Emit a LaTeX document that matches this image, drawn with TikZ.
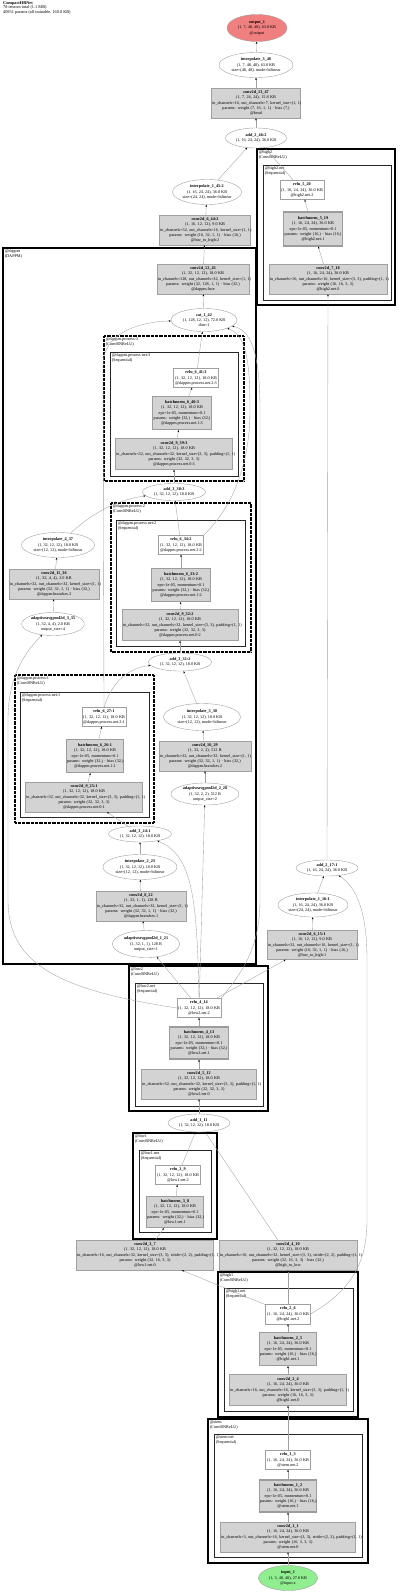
\documentclass[tikz,border=0pt]{standalone}
\usepackage{fontspec}
\setmainfont{Liberation Serif}
\usepackage{xcolor}
\usepackage{tikz}
\usetikzlibrary{shapes.geometric, arrows.meta}
\definecolor{modgray}{HTML}{D3D3D3}
\definecolor{linegray}{HTML}{A0A0A0}
\definecolor{bngray}{HTML}{9C9C9C}
\definecolor{outred}{HTML}{F08080}
\definecolor{ingreen}{HTML}{90EE90}

\tikzset{
  gviz/.style={font=\fontsize{4.2}{5.2}\selectfont, align=center, inner xsep=0.6pt, inner ysep=0.5pt},
  modbox/.style={gviz, rectangle, draw=linegray, fill=modgray, line width=0.4pt},
  bnbox/.style={modbox, draw=bngray, line width=1.1pt},
  fnbox/.style={gviz, rectangle, draw=linegray, fill=white, line width=0.4pt},
  fnell/.style={gviz, ellipse, draw=linegray, fill=white, line width=0.4pt, inner sep=0pt},
  clusterbox/.style={draw=black, line width=1.2pt},
  procbox/.style={draw=black, line width=1.2pt, dash pattern=on 0.7pt off 0.6pt},
  seqbox/.style={draw=black!85, line width=0.9pt},
  clusterlabel/.style={font=\fontsize{4.2}{4.4}\selectfont, align=left, anchor=north west, inner sep=0.6pt},
  flow/.style={draw=linegray, line width=0.35pt, -{Stealth[length=2.2pt, width=1.7pt, color=black]}},
}

\begin{document}
\begin{tikzpicture}[x=1pt, y=-1pt]
  \useasboundingbox (0,0) rectangle (400,1593);

  % header
  \node[anchor=north west, align=left, inner sep=0pt, font=\fontsize{4.3}{4.4}\selectfont] (title) at (3,1.5)
    {\textbf{CompactHRNet}\\78 tensors total (1.1 MB)\\40951 params (all trainable, 160.0 KB)};

  % clusters
  \draw[clusterbox] (257,149) rectangle (395,305);
  \node[clusterlabel] (lbl_high2) at (258,150) {@high2\\(ConvBNReLU)};
  \draw[seqbox] (263,165) rectangle (391,300);
  \node[clusterlabel] (lbl_high2net) at (264,166) {@high2.net\\(Sequential)};

  \draw[clusterbox] (3,248) rectangle (256,964);
  \node[clusterlabel] (lbl_dappm) at (4,249) {@dappm\\(DAPPM)};

  \draw[procbox] (104,336) rectangle (244,481);
  \node[clusterlabel] (lbl_proc3) at (105,337) {@dappm.process:3\\(ConvBNReLU)};
  \draw[seqbox] (110,352) rectangle (238,476);
  \node[clusterlabel] (lbl_proc3net) at (111,353) {@dappm.process.net:3\\(Sequential)};

  \draw[procbox] (111,503) rectangle (251,652);
  \node[clusterlabel] (lbl_proc2) at (112,504) {@dappm.process:2\\(ConvBNReLU)};
  \draw[seqbox] (116,520) rectangle (245,646);
  \node[clusterlabel] (lbl_proc2net) at (117,521) {@dappm.process.net:2\\(Sequential)};

  \draw[procbox] (15,675) rectangle (154,823);
  \node[clusterlabel] (lbl_proc1) at (16,676) {@dappm.process:1\\(ConvBNReLU)};
  \draw[seqbox] (20,692) rectangle (149,817);
  \node[clusterlabel] (lbl_proc1net) at (21,693) {@dappm.process.net:1\\(Sequential)};

  \draw[clusterbox] (129,966) rectangle (268,1111);
  \node[clusterlabel] (lbl_low2) at (130,967) {@low2\\(ConvBNReLU)};
  \draw[seqbox] (135,983) rectangle (263,1106);
  \node[clusterlabel] (lbl_low2net) at (136,984) {@low2.net\\(Sequential)};

  \draw[clusterbox] (133,1133) rectangle (217,1239);
  \node[clusterlabel] (lbl_low1) at (134,1134) {@low1\\(ConvBNReLU)};
  \draw[seqbox] (139,1150) rectangle (211,1232);
  \node[clusterlabel] (lbl_low1net) at (140,1151) {@low1.net\\(Sequential)};

  \draw[clusterbox] (218,1272) rectangle (358,1417);
  \node[clusterlabel] (lbl_high1) at (219,1273) {@high1\\(ConvBNReLU)};
  \draw[seqbox] (224,1288) rectangle (353,1411);
  \node[clusterlabel] (lbl_high1net) at (225,1289) {@high1.net\\(Sequential)};

  \draw[clusterbox] (208,1419) rectangle (368,1563);
  \node[clusterlabel] (lbl_stem) at (209,1420) {@stem\\(ConvBNReLU)};
  \draw[seqbox] (214,1434) rectangle (362,1557);
  \node[clusterlabel] (lbl_stemnet) at (215,1435) {@stem.net\\(Sequential)};

  % head
  \node[fnell, fill=outred, minimum width=60pt, minimum height=27pt] (output_1) at (257,28)
    {\textbf{output\_1}\\(1, 7, 48, 48), 63.0 KB\\@output};
  \node[fnell, minimum width=74pt, minimum height=25pt] (interp_3_48) at (256,65)
    {\textbf{interpolate\_3\_48}\\(1, 7, 48, 48), 63.0 KB\\size=(48, 48), mode=bilinear};
  \node[modbox, text width=87.5pt, minimum height=30pt] (conv2d_13_47) at (256,103)
    {\textbf{conv2d\_13\_47}\\\mbox{(1, 7, 24, 24), 15.8 KB}\\\mbox{in\_channels=16, out\_channels=7, kernel\_size=(1, 1)}\\\mbox{params: weight (7, 16, 1, 1) · bias (7,)}\\@head};
  \node[fnell, minimum width=61pt, minimum height=20pt] (add_2_46_2) at (256,138)
    {\textbf{add\_2\_46:2}\\(1, 16, 24, 24), 36.0 KB};
  \node[fnell, minimum width=69pt, minimum height=25pt] (interp_1_45_2) at (207,192)
    {\textbf{interpolate\_1\_45:2}\\(1, 16, 24, 24), 36.0 KB\\size=(24, 24), mode=bilinear};
  \node[modbox, text width=89.5pt, minimum height=30pt] (conv2d_6_44_2) at (205,230)
    {\textbf{conv2d\_6\_44:2}\\\mbox{(1, 16, 12, 12), 9.0 KB}\\\mbox{in\_channels=32, out\_channels=16, kernel\_size=(1, 1)}\\\mbox{params: weight (16, 32, 1, 1) · bias (16,)}\\@low\_to\_high:2};

  % high2
  \node[fnbox, text width=42.5pt, minimum height=19pt] (relu_5_20) at (302,190)
    {\textbf{relu\_5\_20}\\\mbox{(1, 16, 24, 24), 36.0 KB}\\@high2.net.2};
  \node[bnbox, text width=57.5pt, minimum height=34pt] (bn_5_19) at (313,229)
    {\textbf{batchnorm\_5\_19}\\\mbox{(1, 16, 24, 24), 36.0 KB}\\\mbox{eps=1e-05, momentum=0.1}\\\mbox{params: weight (16,) · bias (16,)}\\@high2.net.1};
  \node[modbox, text width=116.5pt, minimum height=30pt] (conv2d_7_18) at (328,279)
    {\textbf{conv2d\_7\_18}\\\mbox{(1, 16, 24, 24), 36.0 KB}\\\mbox{in\_channels=16, out\_channels=16, kernel\_size=(3, 3), padding=(1, 1)}\\\mbox{params: weight (16, 16, 3, 3)}\\@high2.net.0};

  % dappm
  \node[modbox, text width=90.5pt, minimum height=30pt] (conv2d_12_43) at (203,279)
    {\textbf{conv2d\_12\_43}\\\mbox{(1, 32, 12, 12), 18.0 KB}\\\mbox{in\_channels=128, out\_channels=32, kernel\_size=(1, 1)}\\\mbox{params: weight (32, 128, 1, 1) · bias (32,)}\\@dappm.fuse};
  \node[fnell, minimum width=66pt, minimum height=23pt] (cat_1_42) at (204,320)
    {\textbf{cat\_1\_42}\\(1, 128, 12, 12), 72.0 KB\\dim=1};

  \node[fnbox, text width=43.5pt, minimum height=19pt] (relu_6_41_3) at (196,378)
    {\textbf{relu\_6\_41:3}\\\mbox{(1, 32, 12, 12), 18.0 KB}\\@dappm.process.net.2:3};
  \node[bnbox, text width=57.5pt, minimum height=33pt] (bn_6_40_3) at (182,413)
    {\textbf{batchnorm\_6\_40:3}\\\mbox{(1, 32, 12, 12), 18.0 KB}\\\mbox{eps=1e-05, momentum=0.1}\\\mbox{params: weight (32,) · bias (32,)}\\@dappm.process.net.1:3};
  \node[modbox, text width=115.5pt, minimum height=31pt] (conv2d_9_39_3) at (174,454)
    {\textbf{conv2d\_9\_39:3}\\\mbox{(1, 32, 12, 12), 18.0 KB}\\\mbox{in\_channels=32, out\_channels=32, kernel\_size=(3, 3), padding=(1, 1)}\\\mbox{params: weight (32, 32, 3, 3)}\\@dappm.process.net.0:3};
  \node[fnell, minimum width=63pt, minimum height=17pt] (add_3_38_3) at (174,492)
    {\textbf{add\_3\_38:3}\\(1, 32, 12, 12), 18.0 KB};

  \node[fnbox, text width=43.5pt, minimum height=19pt] (relu_6_34_2) at (181,545)
    {\textbf{relu\_6\_34:2}\\\mbox{(1, 32, 12, 12), 18.0 KB}\\@dappm.process.net.2:2};
  \node[bnbox, text width=57.5pt, minimum height=33pt] (bn_6_33_2) at (181,585)
    {\textbf{batchnorm\_6\_33:2}\\\mbox{(1, 32, 12, 12), 18.0 KB}\\\mbox{eps=1e-05, momentum=0.1}\\\mbox{params: weight (32,) · bias (32,)}\\@dappm.process.net.1:2};
  \node[modbox, text width=114.5pt, minimum height=31pt] (conv2d_9_32_2) at (180,625)
    {\textbf{conv2d\_9\_32:2}\\\mbox{(1, 32, 12, 12), 18.0 KB}\\\mbox{in\_channels=32, out\_channels=32, kernel\_size=(3, 3), padding=(1, 1)}\\\mbox{params: weight (32, 32, 3, 3)}\\@dappm.process.net.0:2};
  \node[fnell, minimum width=63pt, minimum height=18pt] (add_3_31_2) at (180,662)
    {\textbf{add\_3\_31:2}\\(1, 32, 12, 12), 18.0 KB};

  \node[fnell, minimum width=73pt, minimum height=25pt] (interp_4_37) at (58,545)
    {\textbf{interpolate\_4\_37}\\(1, 32, 12, 12), 18.0 KB\\size=(12, 12), mode=bilinear};
  \node[modbox, text width=88.5pt, minimum height=30pt] (conv2d_11_36) at (54,584)
    {\textbf{conv2d\_11\_36}\\\mbox{(1, 32, 4, 4), 2.0 KB}\\\mbox{in\_channels=32, out\_channels=32, kernel\_size=(1, 1)}\\\mbox{params: weight (32, 32, 1, 1) · bias (32,)}\\@dappm.branches.3};
  \node[fnell, minimum width=58pt, minimum height=23pt] (aap_3_35) at (53,624)
    {\textbf{adaptiveavgpool2d\_3\_35}\\(1, 32, 4, 4), 2.0 KB\\output\_size=4};

  \node[fnbox, text width=42.5pt, minimum height=19pt] (relu_6_27_1) at (104,717)
    {\textbf{relu\_6\_27:1}\\\mbox{(1, 32, 12, 12), 18.0 KB}\\@dappm.process.net.2:1};
  \node[bnbox, text width=56.5pt, minimum height=33pt] (bn_6_26_1) at (95,756)
    {\textbf{batchnorm\_6\_26:1}\\\mbox{(1, 32, 12, 12), 18.0 KB}\\\mbox{eps=1e-05, momentum=0.1}\\\mbox{params: weight (32,) · bias (32,)}\\@dappm.process.net.1:1};
  \node[modbox, text width=115.5pt, minimum height=30pt] (conv2d_9_25_1) at (84,797)
    {\textbf{conv2d\_9\_25:1}\\\mbox{(1, 32, 12, 12), 18.0 KB}\\\mbox{in\_channels=32, out\_channels=32, kernel\_size=(3, 3), padding=(1, 1)}\\\mbox{params: weight (32, 32, 3, 3)}\\@dappm.process.net.0:1};

  \node[fnell, minimum width=77pt, minimum height=27pt] (interp_3_30) at (202,717)
    {\textbf{interpolate\_3\_30}\\(1, 32, 12, 12), 18.0 KB\\size=(12, 12), mode=bilinear};
  \node[modbox, text width=90.5pt, minimum height=30pt] (conv2d_10_29) at (205,756)
    {\textbf{conv2d\_10\_29}\\\mbox{(1, 32, 2, 2), 512 B}\\\mbox{in\_channels=32, out\_channels=32, kernel\_size=(1, 1)}\\\mbox{params: weight (32, 32, 1, 1) · bias (32,)}\\@dappm.branches.2};
  \node[fnell, minimum width=68pt, minimum height=22pt] (aap_2_28) at (205,794)
    {\textbf{adaptiveavgpool2d\_2\_28}\\(1, 32, 2, 2), 512 B\\output\_size=2};

  \node[fnell, minimum width=63pt, minimum height=16pt] (add_3_24_1) at (140,834)
    {\textbf{add\_3\_24:1}\\(1, 32, 12, 12), 18.0 KB};
  \node[fnell, minimum width=74pt, minimum height=25pt] (interp_2_23) at (140,867)
    {\textbf{interpolate\_2\_23}\\(1, 32, 12, 12), 18.0 KB\\size=(12, 12), mode=bilinear};
  \node[modbox, text width=88.5pt, minimum height=30pt] (conv2d_8_22) at (141,906)
    {\textbf{conv2d\_8\_22}\\\mbox{(1, 32, 1, 1), 128 B}\\\mbox{in\_channels=32, out\_channels=32, kernel\_size=(1, 1)}\\\mbox{params: weight (32, 32, 1, 1) · bias (32,)}\\@dappm.branches.1};
  \node[fnell, minimum width=67pt, minimum height=27pt] (aap_1_21) at (146,944)
    {\textbf{adaptiveavgpool2d\_1\_21}\\(1, 32, 1, 1), 128 B\\output\_size=1};

  % low to high, first pass
  \node[fnell, minimum width=62pt, minimum height=16pt] (add_2_17_1) at (327,868)
    {\textbf{add\_2\_17:1}\\(1, 16, 24, 24), 36.0 KB};
  \node[fnell, minimum width=70pt, minimum height=24pt] (interp_1_16_1) at (313,905)
    {\textbf{interpolate\_1\_16:1}\\(1, 16, 24, 24), 36.0 KB\\size=(24, 24), mode=bilinear};
  \node[modbox, text width=88.5pt, minimum height=29pt] (conv2d_6_15_1) at (312,945)
    {\textbf{conv2d\_6\_15:1}\\\mbox{(1, 16, 12, 12), 9.0 KB}\\\mbox{in\_channels=32, out\_channels=16, kernel\_size=(1, 1)}\\\mbox{params: weight (16, 32, 1, 1) · bias (16,)}\\@low\_to\_high:1};

  % low2
  \node[fnbox, text width=42.5pt, minimum height=19pt] (relu_4_14) at (199,1008)
    {\textbf{relu\_4\_14}\\\mbox{(1, 32, 12, 12), 18.0 KB}\\@low2.net.2};
  \node[bnbox, text width=57.5pt, minimum height=32pt] (bn_4_13) at (199,1043)
    {\textbf{batchnorm\_4\_13}\\\mbox{(1, 32, 12, 12), 18.0 KB}\\\mbox{eps=1e-05, momentum=0.1}\\\mbox{params: weight (32,) · bias (32,)}\\@low2.net.1};
  \node[modbox, text width=113.5pt, minimum height=30pt] (conv2d_5_12) at (199,1084)
    {\textbf{conv2d\_5\_12}\\\mbox{(1, 32, 12, 12), 18.0 KB}\\\mbox{in\_channels=32, out\_channels=32, kernel\_size=(3, 3), padding=(1, 1)}\\\mbox{params: weight (32, 32, 3, 3)}\\@low2.net.0};
  \node[fnell, minimum width=62pt, minimum height=18pt] (add_1_11) at (199,1123)
    {\textbf{add\_1\_11}\\(1, 32, 12, 12), 18.0 KB};

  % low1
  \node[fnbox, text width=43.5pt, minimum height=19pt] (relu_3_9) at (178,1175)
    {\textbf{relu\_3\_9}\\\mbox{(1, 32, 12, 12), 18.0 KB}\\@low1.net.2};
  \node[bnbox, text width=55.5pt, minimum height=31pt] (bn_3_8) at (175,1212)
    {\textbf{batchnorm\_3\_8}\\\mbox{(1, 32, 12, 12), 18.0 KB}\\\mbox{eps=1e-05, momentum=0.1}\\\mbox{params: weight (32,) · bias (32,)}\\@low1.net.1};
  \node[modbox, text width=135.5pt, minimum height=30pt] (conv2d_3_7) at (145,1255)
    {\textbf{conv2d\_3\_7}\\\mbox{(1, 32, 12, 12), 18.0 KB}\\\mbox{in\_channels=16, out\_channels=32, kernel\_size=(3, 3), stride=(2, 2), padding=(1, 1)}\\\mbox{params: weight (32, 16, 3, 3)}\\@low1.net.0};
  \node[modbox, text width=136.5pt, minimum height=30pt] (conv2d_4_10) at (288,1255)
    {\textbf{conv2d\_4\_10}\\\mbox{(1, 32, 12, 12), 18.0 KB}\\\mbox{in\_channels=16, out\_channels=32, kernel\_size=(3, 3), stride=(2, 2), padding=(1, 1)}\\\mbox{params: weight (32, 16, 3, 3) · bias (32,)}\\@high\_to\_low};

  % high1
  \node[fnbox, text width=43.5pt, minimum height=20pt] (relu_2_6) at (288,1314)
    {\textbf{relu\_2\_6}\\\mbox{(1, 16, 24, 24), 36.0 KB}\\@high1.net.2};
  \node[bnbox, text width=56.5pt, minimum height=33pt] (bn_2_5) at (288,1349)
    {\textbf{batchnorm\_2\_5}\\\mbox{(1, 16, 24, 24), 36.0 KB}\\\mbox{eps=1e-05, momentum=0.1}\\\mbox{params: weight (16,) · bias (16,)}\\@high1.net.1};
  \node[modbox, text width=115.5pt, minimum height=31pt] (conv2d_2_4) at (288,1390)
    {\textbf{conv2d\_2\_4}\\\mbox{(1, 16, 24, 24), 36.0 KB}\\\mbox{in\_channels=16, out\_channels=16, kernel\_size=(3, 3), padding=(1, 1)}\\\mbox{params: weight (16, 16, 3, 3)}\\@high1.net.0};

  % stem
  \node[fnbox, text width=43.5pt, minimum height=19pt] (relu_1_3) at (288,1460)
    {\textbf{relu\_1\_3}\\\mbox{(1, 16, 24, 24), 36.0 KB}\\@stem.net.2};
  \node[bnbox, text width=56.5pt, minimum height=32pt] (bn_1_2) at (288,1496)
    {\textbf{batchnorm\_1\_2}\\\mbox{(1, 16, 24, 24), 36.0 KB}\\\mbox{eps=1e-05, momentum=0.1}\\\mbox{params: weight (16,) · bias (16,)}\\@stem.net.1};
  \node[modbox, text width=133.5pt, minimum height=30pt] (conv2d_1_1) at (288,1537)
    {\textbf{conv2d\_1\_1}\\\mbox{(1, 16, 24, 24), 36.0 KB}\\\mbox{in\_channels=3, out\_channels=16, kernel\_size=(3, 3), stride=(2, 2), padding=(1, 1)}\\\mbox{params: weight (16, 3, 3, 3)}\\@stem.net.0};
  \node[fnell, fill=ingreen, minimum width=59pt, minimum height=25pt] (input_1) at (288,1578)
    {\textbf{input\_1}\\(1, 3, 48, 48), 27.0 KB\\@input.x};

  % connectors
  \draw[flow] (input_1) -- (conv2d_1_1);
  \draw[flow] (conv2d_1_1) -- (bn_1_2);
  \draw[flow] (bn_1_2) -- (relu_1_3);
  \draw[flow] (relu_1_3) -- (conv2d_2_4);
  \draw[flow] (conv2d_2_4) -- (bn_2_5);
  \draw[flow] (bn_2_5) -- (relu_2_6);
  \draw[flow] (relu_2_6) -- (conv2d_3_7);
  \draw[flow] (relu_2_6) -- (conv2d_4_10);
  \draw[flow] (relu_2_6.east) .. controls (352,1290) and (367,1262) .. (367,1220) -- (367,960) .. controls (367,915) and (358,888) .. (add_2_17_1);
  \draw[flow] (conv2d_3_7) -- (bn_3_8);
  \draw[flow] (bn_3_8) -- (relu_3_9);
  \draw[flow] (relu_3_9) -- (add_1_11);
  \draw[flow] (conv2d_4_10) -- (add_1_11);
  \draw[flow] (add_1_11) -- (conv2d_5_12);
  \draw[flow] (conv2d_5_12) -- (bn_4_13);
  \draw[flow] (bn_4_13) -- (relu_4_14);
  \draw[flow] (relu_4_14) -- (conv2d_6_15_1);
  \draw[flow] (conv2d_6_15_1) -- (interp_1_16_1);
  \draw[flow] (interp_1_16_1) -- (add_2_17_1);
  \draw[flow] (add_2_17_1) -- (conv2d_7_18);
  \draw[flow] (conv2d_7_18) -- (bn_5_19);
  \draw[flow] (bn_5_19) -- (relu_5_20);
  \draw[flow] (relu_5_20) -- (add_2_46_2);
  \draw[flow] (relu_4_14) -- (aap_1_21);
  \draw[flow] (aap_1_21) -- (conv2d_8_22);
  \draw[flow] (conv2d_8_22) -- (interp_2_23);
  \draw[flow] (interp_2_23) -- (add_3_24_1);
  \draw[flow] (relu_4_14.north) .. controls (197,900) and (193,855) .. (add_3_24_1);
  \draw[flow] (add_3_24_1) -- (conv2d_9_25_1);
  \draw[flow] (conv2d_9_25_1) -- (bn_6_26_1);
  \draw[flow] (bn_6_26_1) -- (relu_6_27_1);
  \draw[flow] (relu_4_14) -- (aap_2_28);
  \draw[flow] (aap_2_28) -- (conv2d_10_29);
  \draw[flow] (conv2d_10_29) -- (interp_3_30);
  \draw[flow] (interp_3_30) -- (add_3_31_2);
  \draw[flow] (relu_6_27_1.north) .. controls (112,682) and (128,668) .. (add_3_31_2);
  \draw[flow] (add_3_31_2) -- (conv2d_9_32_2);
  \draw[flow] (conv2d_9_32_2) -- (bn_6_33_2);
  \draw[flow] (bn_6_33_2) -- (relu_6_34_2);
  \draw[flow] (relu_4_14.west) .. controls (60,990) and (8,965) .. (8,900) -- (8,720) .. controls (8,680) and (22,655) .. (aap_3_35);
  \draw[flow] (aap_3_35) -- (conv2d_11_36);
  \draw[flow] (conv2d_11_36) -- (interp_4_37);
  \draw[flow] (interp_4_37) .. controls (90,515) and (115,500) .. (add_3_38_3);
  \draw[flow] (relu_6_34_2) -- (add_3_38_3);
  \draw[flow] (add_3_38_3) -- (conv2d_9_39_3);
  \draw[flow] (conv2d_9_39_3) -- (bn_6_40_3);
  \draw[flow] (bn_6_40_3) -- (relu_6_41_3);
  \draw[flow] (relu_6_41_3) -- (cat_1_42);
  \draw[flow] (relu_6_27_1.north) -- (103,365) .. controls (103,335) and (135,322) .. (cat_1_42);
  \draw[flow] (relu_6_34_2.north east) .. controls (235,505) and (250,460) .. (250,410) .. controls (250,360) and (246,335) .. (cat_1_42);
  \draw[flow] (relu_4_14.north east) .. controls (240,975) and (260,950) .. (260,900) -- (260,410) .. controls (260,350) and (250,330) .. (cat_1_42);
  \draw[flow] (cat_1_42) -- (conv2d_12_43);
  \draw[flow] (conv2d_12_43) -- (conv2d_6_44_2);
  \draw[flow] (conv2d_6_44_2) -- (interp_1_45_2);
  \draw[flow] (interp_1_45_2) -- (add_2_46_2);
  \draw[flow] (add_2_46_2) -- (conv2d_13_47);
  \draw[flow] (conv2d_13_47) -- (interp_3_48);
  \draw[flow] (interp_3_48) -- (output_1);
\end{tikzpicture}
\end{document}
